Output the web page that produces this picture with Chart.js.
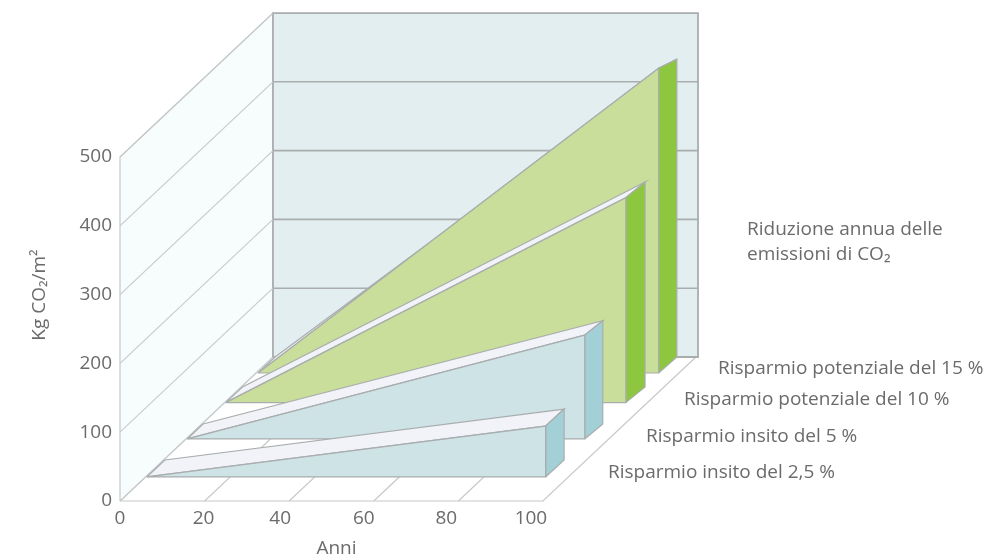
<!DOCTYPE html>
<html>
<head>
<meta charset="utf-8">
<title>Riduzione annua delle emissioni di CO2</title>
<script src="https://cdn.jsdelivr.net/npm/chart.js@4/dist/chart.umd.min.js"></script>
<style>
    html, body { margin: 0; padding: 0; background: #fff; }
    canvas { display: block; }
</style>
</head>
<body>
<canvas id="savingsChart" width="1004" height="560"></canvas>
<script>
// Chart data
const yearTicks = [0, 20, 40, 60, 80, 100];
const kgTicks = [0, 100, 200, 300, 400, 500];
const seriesNames = [
    'Risparmio insito del 2,5 %',
    'Risparmio insito del 5 %',
    'Risparmio potenziale del 10 %',
    'Risparmio potenziale del 15 %'
];
const startYears = [0.3, 0.3, 0.3, 0.5];
const endYears = [94.6, 94.3, 94.9, 95.2];
const backEndYears = [94.7, 94.8, 95.5, 95.5];
const frontValues = [74, 151, 298, 443];
const backValues = [74, 150, 298, 433];
const frontDepths = [0.167, 0.431, 0.683, 0.889];
const backDepths = [0.285, 0.535, 0.792, 1];

// Colours
const textColor = '#6b6b6b';
const frameColor = '#c6c9c9';
const edgeColor = '#a9adad';
const frontColors = ['#cde3e6', '#cde3e6', '#c8de9a', '#c8de9a'];
const sideColors = ['#a2d0d6', '#a2d0d6', '#8dc63f', '#8dc63f'];
const topColor = '#f2f3f8';
const fontFamily = '"Open Sans", "Noto Sans", sans-serif';
const textFont = '400 19px ' + fontFamily;

// Oblique projection: depth 0..1 is expressed in axis units
const depthYears = 36.17;
const depthKg = 209.3;

function project(year, kg, depth) {
    return { x: year + depth * depthYears, y: kg + depth * depthKg };
}

let faces = [];

function addFace(points, fill, stroke, width) {
    const closed = points.concat([points[0]]);
    faces.push({
        type: 'scatter',
        data: closed,
        showLine: true,
        fill: fill ? 'shape' : false,
        backgroundColor: fill || 'transparent',
        borderColor: stroke,
        borderWidth: width,
        pointRadius: 0,
        tension: 0,
        clip: false
    });
}

function addLine(from, to, stroke, width) {
    faces.push({
        type: 'scatter',
        data: [from, to],
        showLine: true,
        fill: false,
        borderColor: stroke,
        borderWidth: width,
        pointRadius: 0,
        clip: false
    });
}

// Walls and floor
function buildWalls() {
    const top = kgTicks[kgTicks.length - 1];
    const right = yearTicks[yearTicks.length - 1];
    const backRight = right + 0.5;

    addFace([project(0, 0, 0), project(right, 0, 0), project(right, 0, 1), project(0, 0, 1)], '#ffffff', frameColor, 1.2);
    addFace([project(0, 0, 0), project(0, top, 0), project(0, top, 1), project(0, 0, 1)], '#f7fdfd', frameColor, 1.2);
    addFace([project(0, 0, 1), project(0, top, 1), project(backRight, top, 1), project(backRight, 0, 1)], '#e2eeef', edgeColor, 1.8);

    yearTicks.slice(1, -1).forEach(year => {
        addLine(project(year, 0, 0), project(year, 0, 1), frameColor, 1.1);
    });
    kgTicks.slice(1, -1).forEach(kg => {
        addLine(project(0, kg, 0), project(0, kg, 1), frameColor, 1.1);
        addLine(project(0, kg, 1), project(backRight, kg, 1), edgeColor, 1.6);
    });
    kgTicks.slice(-1).forEach(kg => {
        addLine(project(0, kg, 0), project(0, kg, 1), frameColor, 1.1);
    });
}

// Each saving is a wedge, drawn from the back row to the front row
function buildWedges() {
    for (let i = seriesNames.length - 1; i >= 0; i--) {
        const x0 = startYears[i];
        const df = frontDepths[i];
        const db = backDepths[i];
        const frontEnd = endYears[i];
        const backEnd = backEndYears[i];

        addFace([project(x0, 0, df), project(frontEnd, frontValues[i], df), project(backEnd, backValues[i], db), project(x0, 0, db)], topColor, edgeColor, 1.2);
        addFace([project(frontEnd, 0, df), project(frontEnd, frontValues[i], df), project(backEnd, backValues[i], db), project(backEnd, 0, db)], sideColors[i], edgeColor, 1.2);
        addFace([project(x0, 0, df), project(frontEnd, frontValues[i], df), project(frontEnd, 0, df)], frontColors[i], edgeColor, 1.2);
    }
}

// Axis titles, year labels and row labels
const textPlugin = {
    id: 'chartText',
    afterDraw(chart) {
        const ctx = chart.ctx;
        const xScale = chart.scales.x;
        ctx.save();
        ctx.fillStyle = textColor;
        ctx.font = textFont;
        ctx.textBaseline = 'middle';

        // the year labels sit a little left of their gridlines in the original
        ctx.textAlign = 'center';
        const yearNudge = [0, -1, -9, -10, -12, -12];
        yearTicks.forEach((year, i) => {
            ctx.fillText(String(year), xScale.getPixelForValue(year) + yearNudge[i], 519);
        });
        ctx.fillText('Anni', xScale.getPixelForValue(50) + 5, 549);

        ctx.save();
        ctx.translate(40, 295);
        ctx.rotate(-Math.PI / 2);
        ctx.fillText('Kg CO₂/m²', 0, 0);
        ctx.restore();

        ctx.textAlign = 'left';
        const labelX = [608, 646, 684, 718];
        const labelY = [473, 437, 400, 369];
        seriesNames.forEach((name, i) => ctx.fillText(name, labelX[i], labelY[i]));

        ctx.fillText('Riduzione annua delle', 747, 230);
        ctx.fillText('emissioni di CO₂', 747, 255);
        ctx.restore();
    }
};

function initChart() {
    buildWalls();
    buildWedges();
    faces.forEach((face, i) => { face.order = faces.length - i; });

    new Chart(document.getElementById('savingsChart'), {
        type: 'scatter',
        data: { datasets: faces },
        options: {
            responsive: false,
            animation: false,
            events: [],
            layout: { padding: { top: 10, right: 298, left: 0, bottom: 0 } },
            plugins: {
                legend: { display: false },
                tooltip: { enabled: false }
            },
            scales: {
                x: {
                    type: 'linear',
                    min: 0,
                    max: 138.56,
                    grid: { display: false },
                    border: { display: false },
                    afterFit: scale => {
                        scale.height = 59;
                        scale.paddingLeft = 0;
                        scale.paddingRight = 0;
                    },
                    afterBuildTicks: scale => { scale.ticks = yearTicks.map(value => ({ value })); },
                    ticks: { display: false }
                },
                y: {
                    type: 'linear',
                    min: 0,
                    max: 713.7,
                    grid: { display: false },
                    border: { display: false },
                    afterFit: scale => {
                        scale.width = 120;
                        scale.paddingTop = 0;
                        scale.paddingBottom = 0;
                    },
                    afterBuildTicks: scale => { scale.ticks = kgTicks.map(value => ({ value })); },
                    ticks: {
                        autoSkip: false,
                        padding: 0,
                        color: textColor,
                        font: { family: fontFamily, size: 19, weight: '400' }
                    }
                }
            }
        },
        plugins: [textPlugin]
    });
}

initChart();
</script>
</body>
</html>
